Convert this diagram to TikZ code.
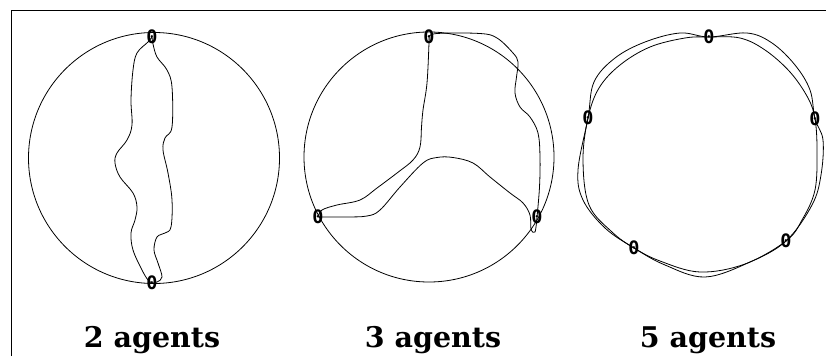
\documentclass[tikz,border=0pt]{standalone}
\usepackage{fontspec}
\newfontfamily\labfont{DejaVu Serif}
\newfontfamily\zerofont{DejaVu Sans Mono}
\begin{document}
\begin{tikzpicture}[x=1pt,y=-1pt,
  agent/.style={font=\zerofont\bfseries\fontsize{18.5}{18.5}\selectfont, inner sep=0pt},
  caption/.style={font=\labfont\bfseries\fontsize{28.5}{28.5}\selectfont, anchor=base, inner sep=0pt},
  ring/.style={line width=0.8pt},
  path/.style={line width=0.8pt, smooth, tension=0.6},
  frame/.style={line width=1pt}]
\useasboundingbox (0,0) rectangle (826,356);
\fill[white] (0,0) rectangle (826,356);
\coordinate (fa) at (11,356);
\coordinate (fb) at (11,10);
\coordinate (fc) at (826,10);
\draw[frame] (fa) -- (fb) -- (fc);

% ---- 2 agents
\node[ring, draw, circle, minimum size=251pt, inner sep=0pt] (c1) at (154,158) {};
\node[agent] (a1) at (152,37) {0};
\node[agent] (a2) at (152,283) {0};
\draw[path] plot coordinates {(a1.center) (148,42) (137,53) (133,70) (131,100) (132,125) (127,140) (117,153) (115,163) (120,177) (133,193) (137,207) (135,220) (131,233) (133,250) (142,270) (148,280) (a2.center)};
\draw[path] plot coordinates {(a1.center) (153,44) (157,57) (167,70) (172,87) (172,127) (165,138) (163,150) (168,173) (172,200) (171,227) (165,233) (157,237) (154,250) (158,263) (162,277) (157,282) (a2.center)};
\node[caption] (l1) at (152,347) {2 agents};

% ---- 3 agents
\node[ring, draw, circle, minimum size=250pt, inner sep=0pt] (c2) at (429,157) {};
\node[agent] (b1) at (429,37) {0};
\node[agent] (b2) at (318,217) {0};
\node[agent] (b3) at (537,217) {0};
\draw[path] plot coordinates {(b1.center) (429,43) (427,83) (423,110) (421.5,127) (420,147) (413,160) (397,173) (377,188) (360,200) (337,205) (322,210) (b2.center)};
\draw[path] plot coordinates {(b2.center) (323,217) (345,217) (367,216) (380,210) (400,187) (423,163) (437,157.5) (453,157.5) (473,163) (490,177) (510,193) (523,203) (530,215) (531,229) (535,232) (b3.center)};
\draw[path] plot coordinates {(b1.center) (437,33.5) (480,33.5) (497,38) (513,53) (518,62) (516.5,77) (515,93) (520,107) (530,117) (538,133) (540,157) (539.5,187) (b3.center)};

\node[caption] (l2) at (433,347) {3 agents};

% ---- 5 agents
\node[agent] (e1) at (709,37) {0};
\node[agent] (e2) at (588,118) {0};
\node[agent] (e3) at (634,248) {0};
\node[agent] (e4) at (786,241) {0};
\node[agent] (e5) at (815,119) {0};
\draw[path, smooth cycle] plot coordinates {(e1.center) (747,33) (772,43) (795,65) (810,90) (e5.center) (823,140) (821,175) (812,205) (e4.center) (750,262) (705,277) (665,265) (e3.center) (605,228) (583,200) (578,170) (e2.center) (594,82) (615,58) (645,42) (680,33)};
\draw[path, smooth cycle] plot coordinates {(e1.center) (740,38) (765,50) (790,72) (808,98) (e5.center) (817,150) (815,190) (802,220) (e4.center) (745,264) (700,272) (660,261) (e3.center) (612,232) (589,205) (583,160) (e2.center) (599,88) (620,65) (650,47) (685,38)};
\node[caption] (l3) at (708,347) {5 agents};
\end{tikzpicture}
\end{document}
